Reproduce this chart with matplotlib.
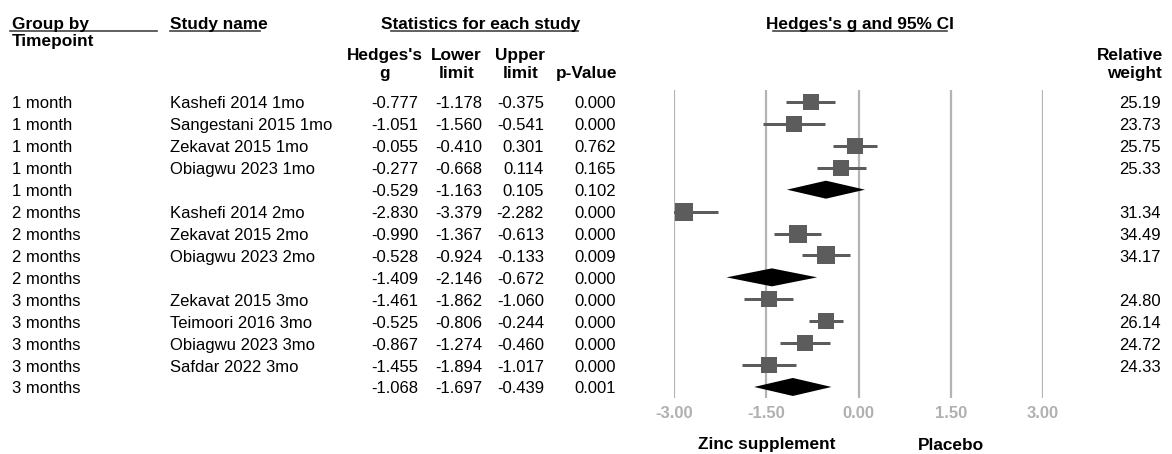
import numpy as np
import matplotlib
matplotlib.use('Agg')
import matplotlib.pyplot as plt
import matplotlib.transforms as mtransforms
from matplotlib.lines import Line2D

plt.rcParams['font.family'] = ['Liberation Sans', 'DejaVu Sans']

# Дані з графіка
groups = ['1 month'] * 5 + ['2 months'] * 4 + ['3 months'] * 5
studies = ['Kashefi 2014 1mo', 'Sangestani 2015 1mo', 'Zekavat 2015 1mo', 'Obiagwu 2023 1mo', '',
           'Kashefi 2014 2mo', 'Zekavat 2015 2mo', 'Obiagwu 2023 2mo', '',
           'Zekavat 2015 3mo', 'Teimoori 2016 3mo', 'Obiagwu 2023 3mo', 'Safdar 2022 3mo', '']
hedges_g = [-0.777, -1.051, -0.055, -0.277, -0.529,
            -2.830, -0.990, -0.528, -1.409,
            -1.461, -0.525, -0.867, -1.455, -1.068]
lower = [-1.178, -1.560, -0.410, -0.668, -1.163,
         -3.379, -1.367, -0.924, -2.146,
         -1.862, -0.806, -1.274, -1.894, -1.697]
upper = [-0.375, -0.541, 0.301, 0.114, 0.105,
         -2.282, -0.613, -0.133, -0.672,
         -1.060, -0.244, -0.460, -1.017, -0.439]
p_value = [0.000, 0.000, 0.762, 0.165, 0.102,
           0.000, 0.000, 0.009, 0.000,
           0.000, 0.000, 0.000, 0.000, 0.001]
weights = [25.19, 23.73, 25.75, 25.33, None,
           31.34, 34.49, 34.17, None,
           24.80, 26.14, 24.72, 24.33, None]
ticks = [-3.0, -1.5, 0.0, 1.5, 3.0]
tick_labels = ['-3.00', '-1.50', '0.00', '1.50', '3.00']

W, H = 1172, 454
fig = plt.figure(figsize=(W / 100, H / 100), dpi=100)

# Область для forest plot (пікселі -> частки фігури)
x0, x1 = 674, 1043
y_top, y_bot = 90, 398
ax = fig.add_axes([x0 / W, 1 - y_bot / H, (x1 - x0) / W, (y_bot - y_top) / H])
row0, pitch = 102, 21.92
n = len(hedges_g)
ax.set_xlim(-3, 3)
ax.set_ylim((y_bot - row0) / pitch, (y_top - row0) / pitch)
for s in ax.spines.values():
    s.set_visible(False)
ax.set_yticks([])
ax.set_xticks(ticks, tick_labels)
ax.tick_params(axis='x', length=0, pad=6, labelsize=12, labelcolor='#b0b0b0')
for lbl in ax.get_xticklabels():
    lbl.set_fontweight('bold')

ax.vlines(ticks, *ax.get_ylim(), color='#b4b4b4', lw=1.6, zorder=1)

rows = np.arange(n)
summary = [s == '' for s in studies]
fs = 12
fsb = 12.4
px = 0.72  # пікселі -> пункти
for i in rows:
    if summary[i]:
        h = 9 / pitch
        ax.fill([lower[i], hedges_g[i], upper[i], hedges_g[i]],
                [i, i - h, i, i + h], color='black', lw=0, zorder=3)
    else:
        ax.hlines(i, lower[i], upper[i], color='#5c5c5c', lw=3 * px, zorder=2)
        side = 3.1 * np.sqrt(weights[i]) * px
        ax.scatter(hedges_g[i], i, marker='s', s=side ** 2, color='#5c5c5c',
                   linewidths=0, zorder=3)

# Текстові колонки
tr = mtransforms.blended_transform_factory(fig.transFigure, ax.transData)
dy = 2 / pitch
for i in rows:
    y = i + dy
    ax.text(12 / W, y, groups[i], transform=tr, ha='left', va='center', fontsize=fs, clip_on=False)
    ax.text(170 / W, y, studies[i], transform=tr, ha='left', va='center', fontsize=fs, clip_on=False)
    ax.text(418 / W, y, f'{hedges_g[i]:.3f}', transform=tr, ha='right', va='center', fontsize=fs, clip_on=False)
    ax.text(482 / W, y, f'{lower[i]:.3f}', transform=tr, ha='right', va='center', fontsize=fs, clip_on=False)
    ax.text(544 / W, y, f'{upper[i]:.3f}', transform=tr, ha='right', va='center', fontsize=fs, clip_on=False)
    ax.text(616 / W, y, f'{p_value[i]:.3f}', transform=tr, ha='right', va='center', fontsize=fs, clip_on=False)
    if weights[i] is not None:
        ax.text(1161 / W, y, f'{weights[i]:.2f}', transform=tr, ha='right', va='center', fontsize=fs, clip_on=False)


def head(x, y, s, ha='center'):
    fig.text(x / W, 1 - (y + 1.5) / H, s, ha=ha, va='center', fontsize=fsb, fontweight='bold')


def uline(xa, xb, y):
    fig.add_artist(Line2D([xa / W, xb / W], [1 - y / H, 1 - y / H],
                          transform=fig.transFigure, color='#444444', lw=1.2))


head(12, 23, 'Group by', 'left')
head(12, 40, 'Timepoint', 'left')
uline(10, 157, 31)
head(170, 23, 'Study name', 'left')
uline(170, 260, 31)
head(481, 23, 'Statistics for each study')
uline(391, 578, 31)
head(860, 23, "Hedges's g and 95% CI")
uline(773, 947, 31)
head(385, 54, "Hedges's")
head(385, 72, 'g')
head(456, 54, 'Lower')
head(457, 72, 'limit')
head(520, 54, 'Upper')
head(521, 72, 'limit')
head(617, 72, 'p-Value', 'right')
head(1163, 54, 'Relative', 'right')
head(1162, 72, 'weight', 'right')

# Підписи під віссю
trb = mtransforms.blended_transform_factory(ax.transData, fig.transFigure)
ax.text(-1.5, 1 - 445 / H, 'Zinc supplement', transform=trb,
        ha='center', va='center', fontsize=fsb, fontweight='bold')
ax.text(1.5, 1 - 445 / H, 'Placebo', transform=trb,
        ha='center', va='center', fontsize=fsb, fontweight='bold')

fig.savefig('out.png', dpi=100)
